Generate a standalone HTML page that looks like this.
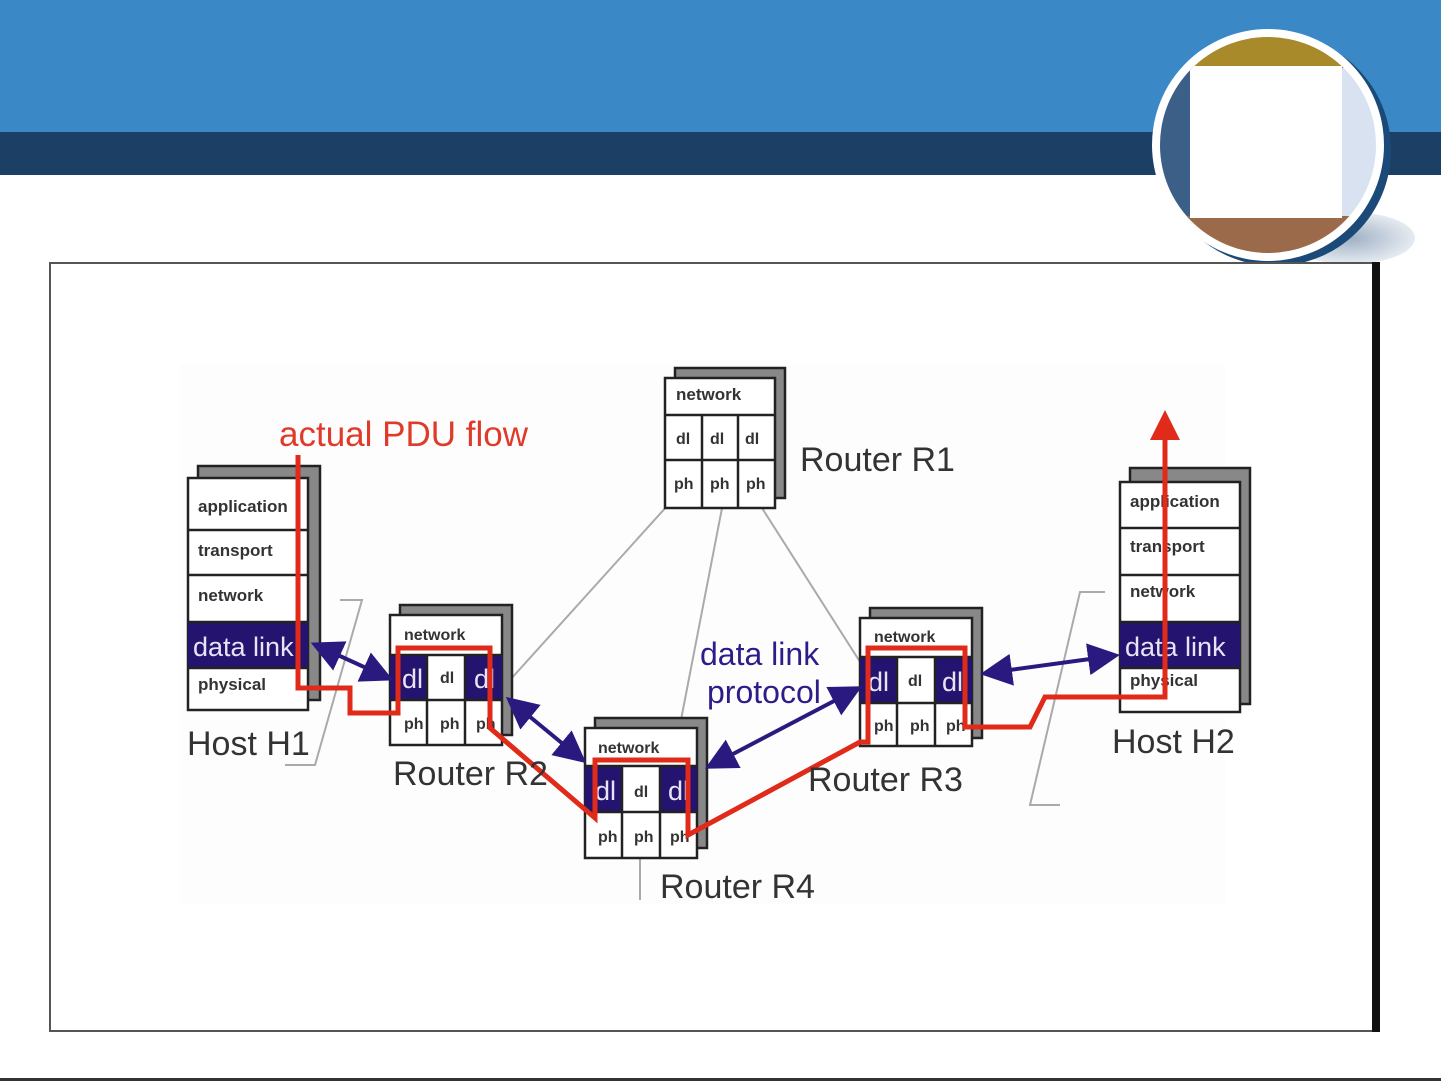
<!DOCTYPE html>
<html><head><meta charset="utf-8"><style>
html,body{margin:0;padding:0;background:#fff;}
svg{display:block;font-family:"Liberation Sans",Arial,sans-serif;}
</style></head><body>
<svg width="1441" height="1081" viewBox="0 0 1441 1081" xmlns="http://www.w3.org/2000/svg">
<defs>
<marker id="ab" markerWidth="8" markerHeight="8" refX="6" refY="4" orient="auto-start-reverse" markerUnits="strokeWidth"><path d="M0,0 L8,4 L0,8 Z" fill="#2a1a80"/></marker>
<radialGradient id="sh" cx="0.5" cy="0.5" r="0.5"><stop offset="0" stop-color="#9fb0c4"/><stop offset="1" stop-color="#e6ebf1"/></radialGradient>
<clipPath id="cc"><circle cx="1268" cy="145" r="108"/></clipPath>
</defs>
<rect x="0" y="0" width="1441" height="132" fill="#3a88c5"/>
<rect x="0" y="132" width="1441" height="43" fill="#1c3f66"/>
<!-- circle -->
<ellipse cx="1350" cy="238" rx="65" ry="26" fill="url(#sh)"/>
<circle cx="1275" cy="150" r="116" fill="#1c4a78"/>
<circle cx="1268" cy="145" r="116" fill="#fff"/>
<g clip-path="url(#cc)">
<rect x="1150" y="30" width="240" height="240" fill="#d8e2f0"/>
<rect x="1150" y="60" width="42" height="170" fill="#3b5f86"/>
<rect x="1150" y="30" width="240" height="38" fill="#a88a2a"/>
<rect x="1150" y="216" width="240" height="60" fill="#9a6a4a"/>
<rect x="1190" y="66" width="152" height="152" fill="#fff"/>
</g>
<!-- frame -->
<rect x="50" y="263" width="1326" height="768" fill="#fff" stroke="#555" stroke-width="2"/>
<rect x="1372" y="262" width="8" height="770" fill="#111"/>
<rect x="0" y="1078" width="1441" height="3" fill="#333"/>
<rect x="180" y="365" width="1045" height="540" fill="#fdfdfd"/>
<!-- gray lines & brackets -->
<g stroke="#aaa" stroke-width="2" fill="none">
<line x1="668" y1="505" x2="510" y2="680"/>
<line x1="722" y1="508" x2="680" y2="725"/>
<line x1="762" y1="508" x2="862" y2="665"/>
<polyline points="340,600 362,600 315,765 285,765"/>
<polyline points="1105,592 1080,592 1030,805 1060,805"/>
<line x1="640" y1="858" x2="640" y2="900"/>
</g>
<g font-weight="bold" font-size="17" fill="#333" stroke="#222" stroke-width="2.5">
<!-- H1 -->
<rect x="198" y="466" width="122" height="234" fill="#888"/>
<rect x="188" y="478" width="120" height="232" fill="#fff"/>
<rect x="188" y="622" width="120" height="46" fill="#241470" stroke="none"/>
<line x1="188" y1="530" x2="308" y2="530"/><line x1="188" y1="575" x2="308" y2="575"/><line x1="188" y1="622" x2="308" y2="622"/><line x1="188" y1="668" x2="308" y2="668"/>
<!-- H2 -->
<rect x="1130" y="468" width="120" height="236" fill="#888"/>
<rect x="1120" y="482" width="120" height="230" fill="#fff"/>
<rect x="1120" y="622" width="120" height="46" fill="#241470" stroke="none"/>
<line x1="1120" y1="528" x2="1240" y2="528"/><line x1="1120" y1="575" x2="1240" y2="575"/><line x1="1120" y1="622" x2="1240" y2="622"/><line x1="1120" y1="668" x2="1240" y2="668"/>
</g>
<g stroke="#222" stroke-width="2.5">
<!-- R1 -->
<rect x="675" y="368" width="110" height="130" fill="#888"/>
<rect x="665" y="378" width="110" height="130" fill="#fff"/>
<line x1="665" y1="415" x2="775" y2="415"/><line x1="665" y1="460" x2="775" y2="460"/>
<line x1="702" y1="415" x2="702" y2="508"/><line x1="738" y1="415" x2="738" y2="508"/>
<!-- R2 -->
<rect x="400" y="605" width="112" height="130" fill="#888"/>
<rect x="390" y="615" width="112" height="130" fill="#fff"/>
<rect x="390" y="655" width="37" height="45" fill="#241470" stroke="none"/><rect x="465" y="655" width="37" height="45" fill="#241470" stroke="none"/>
<line x1="390" y1="655" x2="502" y2="655"/><line x1="390" y1="700" x2="502" y2="700"/>
<line x1="427" y1="655" x2="427" y2="745"/><line x1="465" y1="655" x2="465" y2="745"/>
<!-- R4 -->
<rect x="595" y="718" width="112" height="130" fill="#888"/>
<rect x="585" y="728" width="112" height="130" fill="#fff"/>
<rect x="585" y="766" width="37" height="46" fill="#241470" stroke="none"/><rect x="660" y="766" width="37" height="46" fill="#241470" stroke="none"/>
<line x1="585" y1="766" x2="697" y2="766"/><line x1="585" y1="812" x2="697" y2="812"/>
<line x1="622" y1="766" x2="622" y2="858"/><line x1="660" y1="766" x2="660" y2="858"/>
<!-- R3 -->
<rect x="870" y="608" width="112" height="130" fill="#888"/>
<rect x="860" y="618" width="112" height="128" fill="#fff"/>
<rect x="860" y="657" width="37" height="46" fill="#241470" stroke="none"/><rect x="935" y="657" width="37" height="46" fill="#241470" stroke="none"/>
<line x1="860" y1="657" x2="972" y2="657"/><line x1="860" y1="703" x2="972" y2="703"/>
<line x1="897" y1="657" x2="897" y2="746"/><line x1="935" y1="657" x2="935" y2="746"/>
</g>
<!-- layer labels -->
<g font-weight="bold" font-size="17" fill="#333">
<text x="198" y="512">application</text><text x="198" y="556">transport</text><text x="198" y="601">network</text>
<text x="198" y="690">physical</text>
<text x="1130" y="507">application</text><text x="1130" y="552">transport</text><text x="1130" y="597">network</text><text x="1130" y="686">physical</text>
<text x="676" y="400">network</text>
<g font-size="16"><text x="676" y="444">dl</text><text x="710" y="444">dl</text><text x="745" y="444">dl</text>
<text x="674" y="489">ph</text><text x="710" y="489">ph</text><text x="746" y="489">ph</text>
<text x="404" y="640">network</text><text x="404" y="729">ph</text><text x="440" y="729">ph</text><text x="476" y="729">ph</text>
<text x="598" y="753">network</text><text x="598" y="842">ph</text><text x="634" y="842">ph</text><text x="670" y="842">ph</text>
<text x="874" y="642">network</text><text x="874" y="731">ph</text><text x="910" y="731">ph</text><text x="946" y="731">ph</text>
<text x="440" y="683">dl</text><text x="634" y="797">dl</text><text x="908" y="686">dl</text></g>
</g>
<g fill="#e8e4f4" font-size="27">
<text x="193" y="656">data link</text><text x="1125" y="656">data link</text>
<text x="402" y="688">dl</text><text x="474" y="688">dl</text>
<text x="595" y="800">dl</text><text x="668" y="800">dl</text>
<text x="868" y="691">dl</text><text x="942" y="691">dl</text>
</g>
<!-- blue arrows -->
<g stroke="#2a1a80" stroke-width="4" fill="none" marker-start="url(#ab)" marker-end="url(#ab)">
<line x1="318" y1="646" x2="386" y2="677"/>
<line x1="512" y1="702" x2="580" y2="758"/>
<line x1="712" y1="765" x2="855" y2="690"/>
<line x1="988" y1="673" x2="1112" y2="656"/>
</g>
<!-- red path -->
<polyline points="298,455 298,688 350,688 350,713 398,713 398,648 490,648 490,728 595,818 595,760 688,760 688,835 860,742 868,742 868,648 965,648 965,727 1030,727 1045,697 1165,697 1165,432" fill="none" stroke="#e02a1a" stroke-width="5" stroke-linejoin="miter"/>
<path d="M1165,410 L1180,440 L1150,440 Z" fill="#e02a1a"/>
<!-- labels -->
<g font-size="34" fill="#333">
<text x="187" y="755">Host H1</text>
<text x="393" y="785">Router R2</text>
<text x="660" y="898">Router R4</text>
<text x="808" y="791">Router R3</text>
<text x="1112" y="753">Host H2</text>
<text x="800" y="471">Router R1</text>
</g>
<text x="279" y="446" font-size="35" fill="#e03a2a">actual PDU flow</text>
<text x="700" y="665" font-size="32" fill="#2e1c8a">data link</text>
<text x="707" y="703" font-size="32" fill="#2e1c8a">protocol</text>
</svg>
</body></html>
